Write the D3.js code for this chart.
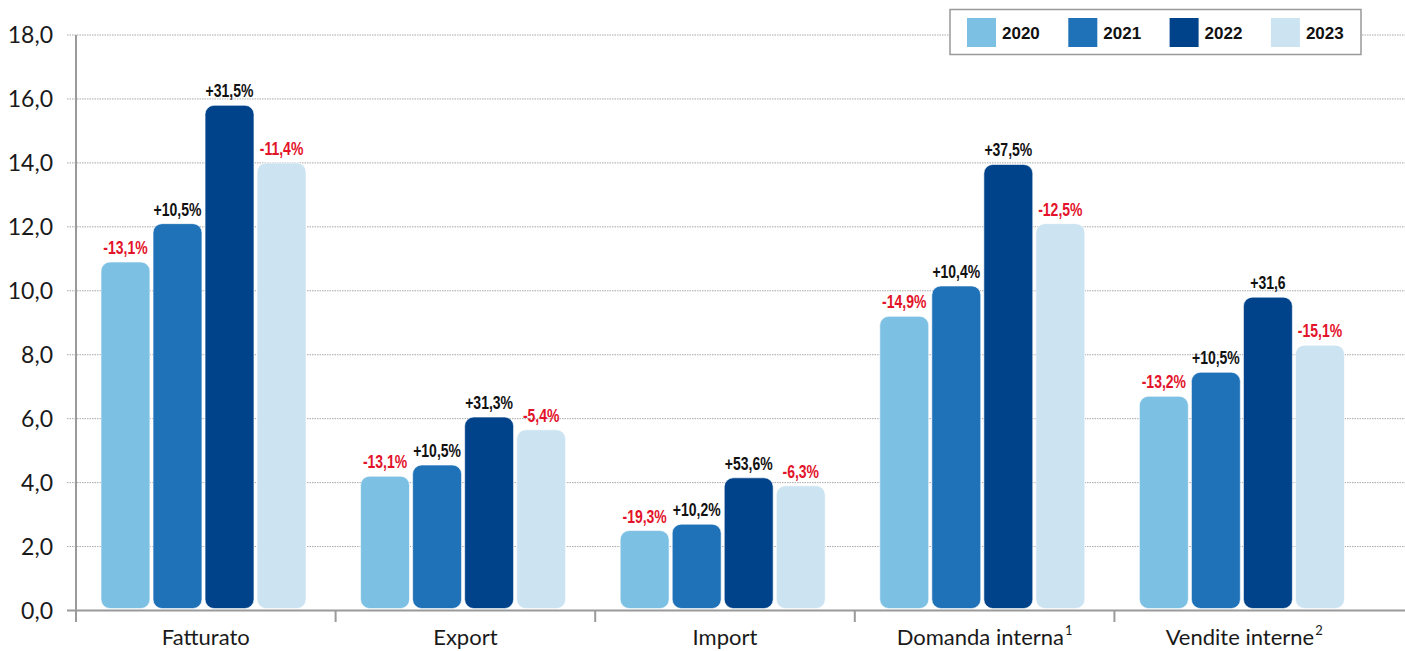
<!DOCTYPE html>
<html><head><meta charset="utf-8">
<script src="https://cdn.jsdelivr.net/npm/d3@7/dist/d3.min.js"></script>
<style>
html,body{margin:0;padding:0;background:#fff;}
svg{display:block;}
</style></head>
<body>
<svg id="chart" width="1405" height="651"></svg>
<script>
// ---- data ----
const categories = ["Fatturato", "Export", "Import", "Domanda interna", "Vendite interne"];
const categorySup = ["", "", "", "1", "2"];
const years = ["2020", "2021", "2022", "2023"];
const values2020 = [10.9, 4.2, 2.5, 9.2, 6.7];
const values2021 = [12.1, 4.55, 2.7, 10.15, 7.45];
const values2022 = [15.8, 6.05, 4.15, 13.95, 9.8];
const values2023 = [14.0, 5.65, 3.9, 12.1, 8.3];
const labels2020 = ["-13,1%", "-13,1%", "-19,3%", "-14,9%", "-13,2%"];
const labels2021 = ["+10,5%", "+10,5%", "+10,2%", "+10,4%", "+10,5%"];
const labels2022 = ["+31,5%", "+31,3%", "+53,6%", "+37,5%", "+31,6"];
const labels2023 = ["-11,4%", "-5,4%", "-6,3%", "-12,5%", "-15,1%"];
const yTicks = [0, 2, 4, 6, 8, 10, 12, 14, 16, 18];

const seriesValues = [values2020, values2021, values2022, values2023];
const seriesLabels = [labels2020, labels2021, labels2022, labels2023];
const colors = ["#7cc0e3", "#1f72b8", "#00438a", "#cce3f2"];

const svg = d3.select("#chart");
const axisFont = "Lato, 'Open Sans', sans-serif";
const labelFont = "'Liberation Sans', Arial, sans-serif";

const y = d3.scaleLinear().domain([0, 18]).range([610.5, 35]);
const x0 = d3.scaleBand().domain(categories).range([76, 1374]);
const x1 = d3.scaleBand().domain(years)
  .range([25, 230]).paddingInner(0.06);

// gridlines
svg.append("g").selectAll("line").data(yTicks.filter(d => d > 0)).join("line")
  .attr("x1", 67).attr("x2", 1405)
  .attr("y1", d => y(d)).attr("y2", d => y(d))
  .attr("stroke", "#a8a8a8").attr("stroke-width", 1)
  .attr("stroke-dasharray", "1.5,1");

// y tick labels
svg.append("g").selectAll("text").data(yTicks).join("text")
  .attr("x", 53).attr("y", d => y(d) + 8)
  .attr("text-anchor", "end")
  .attr("font-family", axisFont).attr("font-size", 23)
  .attr("fill", "#1a1a1a")
  .text(d => d3.format(".1f")(d).replace(".", ","));

// bars
const rows = [];
categories.forEach((c, i) => years.forEach((yr, j) => rows.push({
  cat: c, year: yr, value: seriesValues[j][i], label: seriesLabels[j][i], color: colors[j]
})));

const bars = svg.append("g");
bars.selectAll("rect").data(rows).join("rect")
  .attr("x", d => x0(d.cat) + x1(d.year))
  .attr("y", d => y(d.value))
  .attr("width", x1.bandwidth())
  .attr("height", d => y(0) - 2 - y(d.value))
  .attr("rx", 9).attr("ry", 9)
  .attr("fill", d => d.color)
  .attr("stroke", "#ffffff").attr("stroke-width", 0.6);

// value labels (condensed bold)
svg.append("g").selectAll("text").data(rows).join("text")
  .attr("transform", d => `translate(${x0(d.cat) + x1(d.year) + x1.bandwidth() / 2},${y(d.value) - 8}) scale(0.8,1)`)
  .attr("text-anchor", "middle")
  .attr("font-family", labelFont).attr("font-weight", "bold")
  .attr("font-size", 17.5)
  .attr("fill", d => d.label.startsWith("-") ? "#e3132a" : "#111")
  .text(d => d.label);

// axes lines
svg.append("line").attr("x1", 76).attr("x2", 76).attr("y1", 35).attr("y2", 622)
  .attr("stroke", "#9a9a9a").attr("stroke-width", 2);
svg.append("line").attr("x1", 67).attr("x2", 1405).attr("y1", y(0)).attr("y2", y(0))
  .attr("stroke", "#9a9a9a").attr("stroke-width", 2);
svg.append("g").selectAll("line").data(categories.slice(1)).join("line")
  .attr("x1", d => x0(d)).attr("x2", d => x0(d))
  .attr("y1", y(0)).attr("y2", 622)
  .attr("stroke", "#9a9a9a").attr("stroke-width", 2);

// category labels
const catText = svg.append("g").selectAll("text").data(categories).join("text")
  .attr("x", d => x0(d) + x0.bandwidth() / 2)
  .attr("y", 645)
  .attr("text-anchor", "middle")
  .attr("font-family", axisFont).attr("font-size", 22)
  .attr("fill", "#1a1a1a");
catText.append("tspan").text(d => d);
catText.append("tspan")
  .attr("font-size", 13).attr("dy", -10).attr("dx", 1)
  .text((d, i) => categorySup[i]);

// legend
const lg = svg.append("g");
lg.append("rect").attr("x", 950).attr("y", 9.5).attr("width", 411).attr("height", 45)
  .attr("fill", "#fff").attr("stroke", "#999").attr("stroke-width", 1.5);
const li = lg.selectAll("g").data(years).join("g")
  .attr("transform", (d, i) => `translate(${967 + i * 101.3},18)`);
li.append("rect").attr("width", 29).attr("height", 29).attr("fill", (d, i) => colors[i]);
li.append("text").attr("x", 35).attr("y", 21)
  .attr("font-family", "'Liberation Sans', Arial, sans-serif").attr("font-weight", "bold")
  .attr("font-size", 17).attr("fill", "#111").text(d => d);
</script>
</body></html>
